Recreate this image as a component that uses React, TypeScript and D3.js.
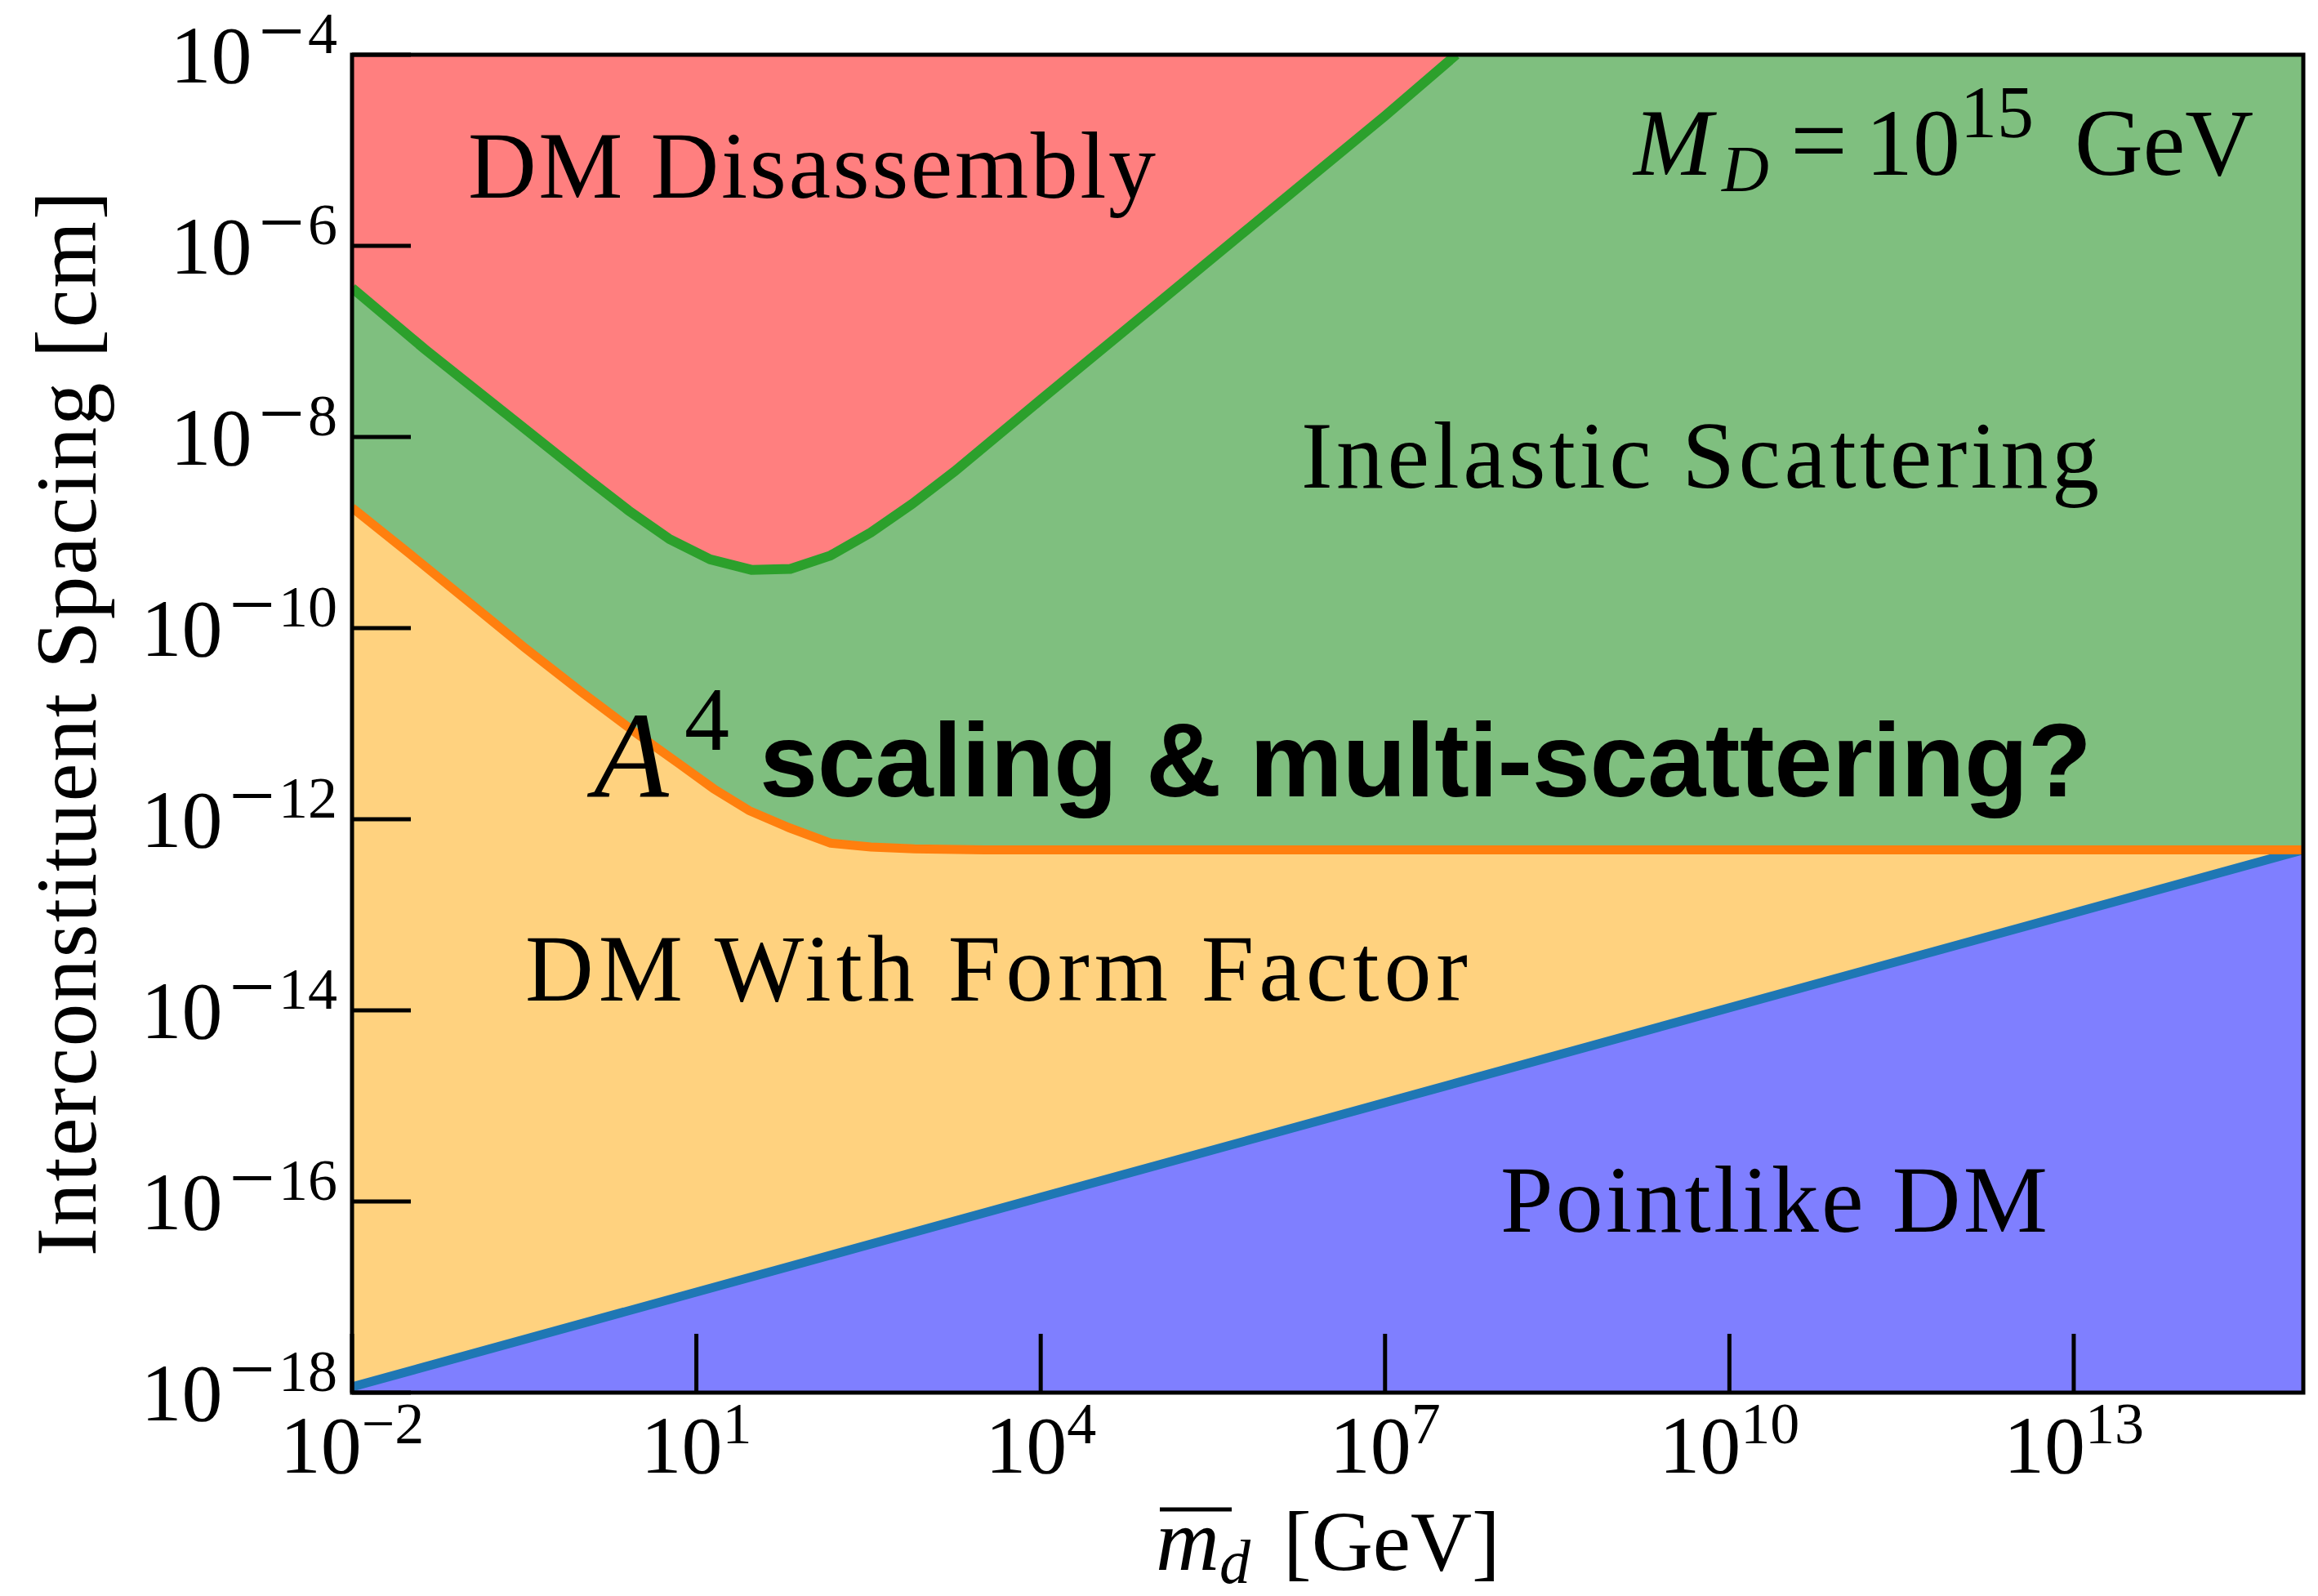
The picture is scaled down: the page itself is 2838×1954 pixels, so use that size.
import React, { useEffect } from 'react';
import * as d3 from 'd3';

// ---- data (log10 values) ----
// x: mean constituent mass m_d [GeV], y: interconstituent spacing [cm]
const greenLogM = [-2, -1.367, -0.656, 0.055, 0.41, 0.767, 1.12, 1.48, 1.82, 2.17, 2.52, 2.88, 3.25, 3.6, 4.0, 5.0, 6.0, 7.0, 7.62];
const greenLogR = [-6.44, -7.08, -7.76, -8.44, -8.77, -9.07, -9.28, -9.39, -9.38, -9.24, -9.0, -8.7, -8.36, -8.01, -7.61, -6.62, -5.63, -4.64, -4.0];

const orangeLogM = [-2, -1.5, -1, -0.5, 0, 0.5, 0.85, 1.15, 1.46, 1.81, 2.17, 2.52, 2.9, 3.5, 15];
const orangeLogR = [-8.74, -9.22, -9.71, -10.2, -10.67, -11.12, -11.42, -11.68, -11.91, -12.09, -12.25, -12.29, -12.31, -12.32, -12.32];

const blueLogM = [-2, 15];
const blueLogR = [-17.94, -12.32];

const xTickExps = [-2, 1, 4, 7, 10, 13];
const yTickExps = [-18, -16, -14, -12, -10, -8, -6, -4];

const xDomainExp = [-2, 15];
const yDomainExp = [-18, -4];

type P = [number, number];
const toPts = (lm: number[], lr: number[]): P[] => lm.map((v, i) => [Math.pow(10, v), Math.pow(10, lr[i])]);

const greenPts = toPts(greenLogM, greenLogR);
const orangePts = toPts(orangeLogM, orangeLogR);
const bluePts = toPts(blueLogM, blueLogR);

const W = 2838;
const H = 1954;
const PL = 431, PR = 2820, PT = 67, PB = 1705;

const serif = '"Liberation Serif", "DejaVu Serif", serif';
const sans = '"Liberation Sans", Arial, sans-serif';

export default function App() {
  useEffect(() => {
    document.body.style.margin = '0';
  }, []);

  const x = d3.scaleLog().domain([Math.pow(10, xDomainExp[0]), Math.pow(10, xDomainExp[1])]).range([PL, PR]);
  const y = d3.scaleLog().domain([Math.pow(10, yDomainExp[0]), Math.pow(10, yDomainExp[1])]).range([PB, PT]);
  const yTop = y.domain()[1];
  const yBot = y.domain()[0];

  const line = d3.line<P>().x(d => x(d[0])).y(d => y(d[1]));
  const areaAbove = d3.area<P>().x(d => x(d[0])).y0(() => y(yTop)).y1(d => y(d[1]));
  const areaBelow = d3.area<P>().x(d => x(d[0])).y0(() => y(yBot)).y1(d => y(d[1]));

  const supSize = 72;
  const tickSize = 100;

  return (
    <svg width={W} height={H} style={{ display: 'block', position: 'absolute', left: 0, top: 0, background: '#fff' }}>
      <defs>
        <clipPath id="plotClip">
          <rect x={PL} y={PT} width={PR - PL} height={PB - PT} />
        </clipPath>
      </defs>
      <rect x={0} y={0} width={W} height={H} fill="#ffffff" />
      <g clipPath="url(#plotClip)">
        {/* green base */}
        <rect x={PL} y={PT} width={PR - PL} height={PB - PT} fill="#7fbf7f" />
        {/* red: above green line */}
        <path d={areaAbove(greenPts) || ''} fill="#ff7f7f" />
        {/* orange: below orange line */}
        <path d={areaBelow(orangePts) || ''} fill="#ffd27f" />
        {/* blue: below blue line */}
        <path d={areaBelow(bluePts) || ''} fill="#7f7fff" />
        <path d={line(bluePts) || ''} fill="none" stroke="#1f77b4" strokeWidth={11} />
        <path d={line(orangePts) || ''} fill="none" stroke="#ff7f0e" strokeWidth={11} />
        <path d={line(greenPts) || ''} fill="none" stroke="#2ca02c" strokeWidth={12} />
      </g>

      {/* ticks */}
      {xTickExps.map(e => (
        <line key={'xt' + e} x1={x(Math.pow(10, e))} x2={x(Math.pow(10, e))} y1={PB} y2={PB - 72} stroke="#000" strokeWidth={5} />
      ))}
      {yTickExps.map(e => (
        <line key={'yt' + e} x1={PL} x2={PL + 72} y1={y(Math.pow(10, e))} y2={y(Math.pow(10, e))} stroke="#000" strokeWidth={5} />
      ))}
      <rect x={PL} y={PT} width={PR - PL} height={PB - PT} fill="none" stroke="#000" strokeWidth={5} />

      {/* x tick labels */}
      {xTickExps.map(e => (
        <text key={'xl' + e} x={x(Math.pow(10, e))} y={PB + 98} textAnchor="middle" fontFamily={serif} fontSize={tickSize} fill="#000">
          10<tspan fontSize={supSize} dy={-36}>{e < 0 ? '\u2212' + Math.abs(e) : String(e)}</tspan>
        </text>
      ))}
      {/* y tick labels */}
      {yTickExps.map(e => (
        <text key={'yl' + e} x={413} y={y(Math.pow(10, e)) + 34} textAnchor="end" fontFamily={serif} fontSize={tickSize} fill="#000">
          10<tspan fontSize={tickSize} dy={-29} dx={8}>{'\u2212'}</tspan><tspan fontSize={supSize} dy={-7} dx={4}>{String(Math.abs(e))}</tspan>
        </text>
      ))}

      {/* axis labels */}
      <line x1={1420} x2={1508} y1={1848} y2={1848} stroke="#000" strokeWidth={5} />
      <text x={1415} y={1922} fontFamily={serif} fontSize={108} fill="#000">
        <tspan fontStyle="italic">m</tspan>
        <tspan fontStyle="italic" fontSize={76} dy={16}>d</tspan>
        <tspan x={1571} dy={-16} fontSize={104}>[GeV]</tspan>
      </text>
      <text transform={`translate(117, ${(PT + PB) / 2}) rotate(-90)`} textAnchor="middle" fontFamily={serif} fontSize={105} fill="#000" textLength={1304}>
        Interconstituent Spacing [cm]
      </text>

      {/* region labels */}
      <text x={573} y={242} fontFamily={serif} fontSize={116} fill="#000" textLength={842}>DM Disassembly</text>
      <text x={1593} y={597} fontFamily={serif} fontSize={116} fill="#000" textLength={977}>Inelastic Scattering</text>
      <text x={643} y={1225} fontFamily={serif} fontSize={116} fill="#000" textLength={1154}>DM With Form Factor</text>
      <text x={1837} y={1508} fontFamily={serif} fontSize={116} fill="#000" textLength={670}>Pointlike DM</text>

      <text y={214} fontFamily={serif} fontSize={116} fill="#000">
        <tspan x={2000} fontStyle="italic">M</tspan>
        <tspan x={2108} fontStyle="italic" fontSize={80} dy={20}>D</tspan>
        <tspan x={2192} dy={-20} fontSize={124}>=</tspan>
        <tspan x={2284}>10</tspan>
        <tspan x={2400} fontSize={90} dy={-46}>15</tspan>
        <tspan x={2540} dy={46}>GeV</tspan>
      </text>

      <text x={727} y={975} fontFamily={serif} fontSize={150} fontStyle="italic" fill="#000">A</text>
      <text x={838} y={918} fontFamily={serif} fontSize={110} fill="#000">4</text>
      <text x={930} y={975} fontFamily={sans} fontSize={128} fontWeight="bold" fill="#000" textLength={1631}>scaling &amp; multi-scattering?</text>
    </svg>
  );
}
